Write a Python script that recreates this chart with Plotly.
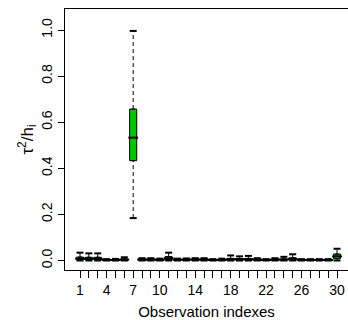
import plotly.graph_objects as go

obs = list(range(1, 31))
lower = [0.0]*6 + [0.184] + [0.0]*23
q1 = [0.003, 0.003, 0.003, 0.001, 0.001, 0.002, 0.433, 0.002, 0.002, 0.001,
      0.004, 0.001, 0.002, 0.002, 0.002, 0.001, 0.001, 0.002, 0.002, 0.002,
      0.002, 0.001, 0.002, 0.002, 0.003, 0.001, 0.001, 0.001, 0.001, 0.008]
med = [0.008, 0.008, 0.008, 0.002, 0.002, 0.004, 0.533, 0.004, 0.004, 0.003,
       0.010, 0.003, 0.004, 0.004, 0.004, 0.002, 0.003, 0.005, 0.005, 0.005,
       0.004, 0.002, 0.004, 0.004, 0.007, 0.002, 0.002, 0.002, 0.002, 0.018]
q3 = [0.015, 0.014, 0.014, 0.004, 0.004, 0.007, 0.657, 0.007, 0.007, 0.005,
      0.017, 0.005, 0.006, 0.007, 0.007, 0.004, 0.005, 0.009, 0.008, 0.009,
      0.007, 0.004, 0.006, 0.007, 0.012, 0.004, 0.004, 0.004, 0.004, 0.028]
upper = [0.034, 0.031, 0.031, 0.006, 0.007, 0.014, 0.996, 0.010, 0.010, 0.008,
         0.034, 0.008, 0.009, 0.010, 0.010, 0.006, 0.008, 0.022, 0.018, 0.020,
         0.010, 0.006, 0.010, 0.016, 0.027, 0.006, 0.006, 0.006, 0.006, 0.051]
labelled = [1, 4, 7, 10, 14, 18, 22, 26, 30]
yticks = [0.0, 0.2, 0.4, 0.6, 0.8, 1.0]

FONT = "Liberation Sans, Arial, sans-serif"
fig = go.Figure()

# dashed whiskers
wx, wy = [], []
for i, lo, a, b, hi in zip(obs, lower, q1, q3, upper):
    wx += [i, i, None, i, i, None]
    wy += [lo, a, None, b, hi, None]
fig.add_trace(go.Scatter(x=wx, y=wy, mode="lines",
                         line=dict(color="black", width=1, dash="4px,3px"),
                         hoverinfo="skip", showlegend=False))

# boxes
fig.add_trace(go.Box(x=obs, q1=q1, median=med, q3=q3, lowerfence=q1, upperfence=q3,
                     width=0.8, fillcolor="#00C800",
                     line=dict(color="black", width=1), showlegend=False))

# medians
fig.add_trace(go.Scatter(x=obs, y=med, mode="markers",
                         marker=dict(symbol="line-ew", size=7,
                                     line=dict(color="black", width=2)),
                         showlegend=False))
# caps
fig.add_trace(go.Scatter(x=obs + obs, y=lower + upper, mode="markers",
                         marker=dict(symbol="line-ew", size=5,
                                     line=dict(color="black", width=2)),
                         showlegend=False))

fig.update_layout(
    width=348, height=320,
    margin=dict(l=65, r=0, t=9, b=50),
    paper_bgcolor="white", plot_bgcolor="white",
    font=dict(family=FONT, color="black", size=14),
    showlegend=False,
    xaxis=dict(range=[-0.693, 31.24], tickmode="array", tickvals=obs,
               ticktext=[str(i) if i in labelled else "" for i in obs],
               ticks="outside", ticklen=7, tickcolor="black", tickwidth=1,
               showline=True, linecolor="black", linewidth=1, mirror=True,
               showgrid=False, zeroline=False,
               tickfont=dict(size=14),
               title=dict(text="Observation indexes", font=dict(size=15), standoff=10)),
    yaxis=dict(range=[-0.0412, 1.0911], tickmode="array", tickvals=yticks,
               ticktext=[f"{v:.1f}" for v in yticks], tickangle=-90,
               ticks="outside", ticklen=6, tickcolor="black", tickwidth=1,
               showline=True, linecolor="black", linewidth=1,
               showgrid=False, zeroline=False,
               tickfont=dict(size=14),
               title=dict(text="τ<sup>2</sup>/h<sub>i</sub>", font=dict(size=17), standoff=0)),
)

fig.write_html("out.html")
